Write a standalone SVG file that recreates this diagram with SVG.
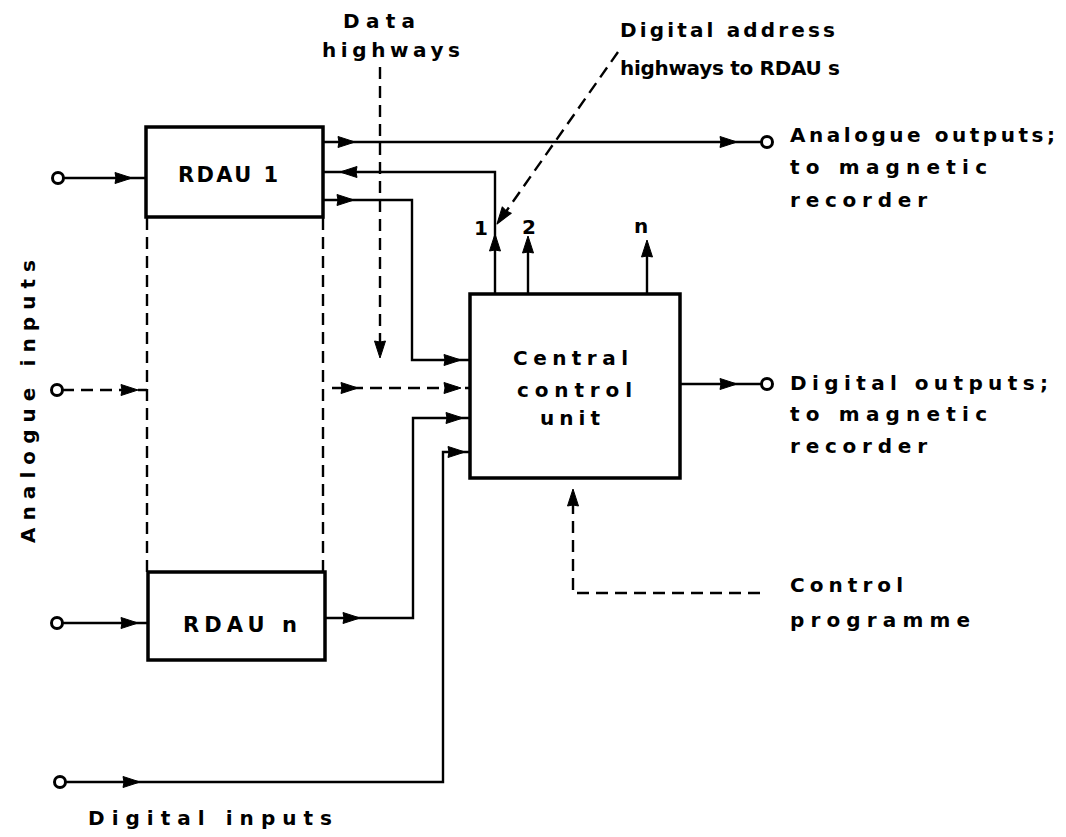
<svg xmlns="http://www.w3.org/2000/svg" xmlns:xlink="http://www.w3.org/1999/xlink" width="1066" height="837" viewBox="0 0 1066 837">
<style>
.box{fill:#fff;stroke:#000;stroke-width:3.5}
.ln{fill:none;stroke:#000;stroke-width:2.4}
.dl{fill:none;stroke:#000;stroke-width:2.4;stroke-dasharray:12 7}
.term{fill:#fff;stroke:#000;stroke-width:3}
.ah{fill:#000;stroke:#000;stroke-width:1;stroke-linejoin:round}
text{font-family:"DejaVu Sans","Liberation Sans",sans-serif;font-weight:bold;font-size:20px;fill:#000}
.big{font-size:21px}
</style>
<defs>
<path id="arr" class="ah" d="M0,0 L-17,-5.5 L-16,0 L-17,5.5 Z"/>
</defs>
<rect width="1066" height="837" fill="#fff"/>

<g id="connectors">
  <!-- dashed links between RDAU boxes -->
  <line class="dl" x1="147" y1="218" x2="147" y2="572"/>
  <line class="dl" x1="323" y1="218" x2="323" y2="572"/>
  <!-- inputs -->
  <line class="ln" x1="63" y1="178" x2="146" y2="178"/>
  <use xlink:href="#arr" transform="translate(132,178)"/>
  <line class="dl" x1="62" y1="390" x2="147" y2="390"/>
  <use xlink:href="#arr" transform="translate(138,390)"/>
  <line class="ln" x1="62" y1="623" x2="148" y2="623"/>
  <use xlink:href="#arr" transform="translate(138,623)"/>
  <polyline class="ln" points="65,782 443,782 443,452 470,452"/>
  <use xlink:href="#arr" transform="translate(140,782)"/>
  <use xlink:href="#arr" transform="translate(465,452)"/>
  <!-- RDAU 1 outputs -->
  <line class="ln" x1="323" y1="142" x2="762" y2="142"/>
  <use xlink:href="#arr" transform="translate(355,142)"/>
  <use xlink:href="#arr" transform="translate(737,142)"/>
  <polyline class="ln" points="495,294 495,172 323,172"/>
  <use xlink:href="#arr" transform="translate(340,172) rotate(180)"/>
  <use xlink:href="#arr" transform="translate(495,234) rotate(-90)"/>
  <polyline class="ln" points="323,200 412,200 412,360 470,360"/>
  <use xlink:href="#arr" transform="translate(354,200)"/>
  <use xlink:href="#arr" transform="translate(461,360)"/>
  <!-- RDAU n output -->
  <polyline class="ln" points="325,618 413,618 413,418 470,418"/>
  <use xlink:href="#arr" transform="translate(360,618)"/>
  <use xlink:href="#arr" transform="translate(463,418)"/>
  <!-- dashed analogue into CCU -->
  <line class="dl" x1="332" y1="388" x2="470" y2="388"/>
  <use xlink:href="#arr" transform="translate(358,388)"/>
  <use xlink:href="#arr" transform="translate(461,388)"/>
  <!-- CCU address outputs -->
  <line class="ln" x1="528" y1="294" x2="528" y2="240"/>
  <use xlink:href="#arr" transform="translate(528,236) rotate(-90)"/>
  <line class="ln" x1="647" y1="294" x2="647" y2="245"/>
  <use xlink:href="#arr" transform="translate(647,240) rotate(-90)"/>
  <!-- digital output -->
  <line class="ln" x1="680" y1="384" x2="762" y2="384"/>
  <use xlink:href="#arr" transform="translate(737,384)"/>
  <!-- data highways pointer -->
  <line class="dl" x1="380" y1="67" x2="380" y2="345"/>
  <use xlink:href="#arr" transform="translate(380,358) rotate(90)"/>
  <!-- digital address pointer -->
  <line class="dl" x1="618" y1="52" x2="505" y2="213"/>
  <use xlink:href="#arr" transform="translate(497,224) rotate(125)"/>
  <!-- control programme -->
  <polyline class="dl" points="760,593 573,593 573,500"/>
  <use xlink:href="#arr" transform="translate(573,489) rotate(-90)"/>
</g>

<g id="terminals">
  <circle class="term" cx="58" cy="178" r="5.5"/>
  <circle class="term" cx="57" cy="390" r="5.5"/>
  <circle class="term" cx="57" cy="623" r="5.5"/>
  <circle class="term" cx="60" cy="782" r="5.5"/>
  <circle class="term" cx="767" cy="142" r="5.5"/>
  <circle class="term" cx="767" cy="384" r="5.5"/>
</g>

<g id="rdau1">
  <rect class="box" x="146" y="127" width="177" height="90"/>
  <text class="big" x="178" y="182" textLength="100" lengthAdjust="spacing">RDAU 1</text>
</g>
<g id="rdaun">
  <rect class="box" x="148" y="572" width="177" height="88"/>
  <text class="big" x="183" y="632" textLength="114" lengthAdjust="spacing">RDAU n</text>
</g>
<g id="ccu">
  <rect class="box" x="470" y="294" width="210" height="184"/>
  <text x="513" y="365" textLength="115" lengthAdjust="spacing">Central</text>
  <text x="517" y="397" textLength="115" lengthAdjust="spacing">control</text>
  <text x="540" y="425" textLength="60" lengthAdjust="spacing">unit</text>
</g>

<g id="labels">
  <text x="343" y="28" textLength="72" lengthAdjust="spacing">Data</text>
  <text x="322" y="57" textLength="138" lengthAdjust="spacing">highways</text>
  <text x="620" y="37" textLength="215" lengthAdjust="spacing">Digital address</text>
  <text x="620" y="75" textLength="220" lengthAdjust="spacing">highways to RDAU s</text>
  <text x="790" y="142" textLength="265" lengthAdjust="spacing">Analogue outputs;</text>
  <text x="790" y="174" textLength="197" lengthAdjust="spacing">to magnetic</text>
  <text x="790" y="207" textLength="137" lengthAdjust="spacing">recorder</text>
  <text x="790" y="390" textLength="258" lengthAdjust="spacing">Digital outputs;</text>
  <text x="790" y="421" textLength="197" lengthAdjust="spacing">to magnetic</text>
  <text x="790" y="453" textLength="137" lengthAdjust="spacing">recorder</text>
  <text x="790" y="592" textLength="113" lengthAdjust="spacing">Control</text>
  <text x="790" y="627" textLength="180" lengthAdjust="spacing">programme</text>
  <text x="88" y="825" textLength="244" lengthAdjust="spacing">Digital inputs</text>
  <text transform="translate(35,401) rotate(-90)" x="-142" y="0" textLength="283" lengthAdjust="spacing">Analogue inputs</text>
  <text x="474" y="235" font-size="18">1</text>
  <text x="522" y="234" font-size="18">2</text>
  <text x="634" y="233" font-size="18">n</text>
</g>
</svg>
